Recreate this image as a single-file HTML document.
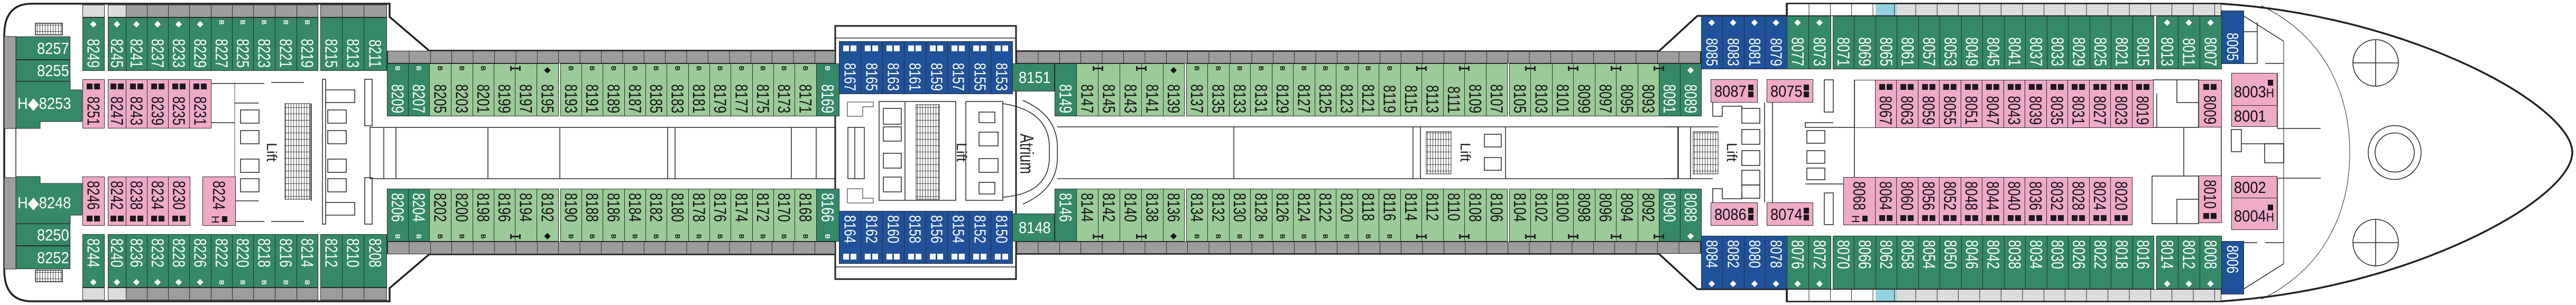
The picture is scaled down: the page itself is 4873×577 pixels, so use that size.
<!DOCTYPE html>
<html><head><meta charset="utf-8">
<style>
*{margin:0;padding:0}
body{width:4873px;height:577px;position:relative;overflow:hidden;background:#fff;font-family:"Liberation Sans",sans-serif}
svg{position:absolute;left:0;top:0}
.r{position:absolute;display:flex;border-right:1px solid #2a2a2a}
.c{position:relative;flex:none;height:100%;box-sizing:border-box;box-shadow:inset 1px 0 #2a2a2a,inset 0 1px #2a2a2a,inset 0 -1px #2a2a2a}
.s{flex:none;height:100%;background:#fff;box-shadow:inset 1px 0 #2a2a2a}
.w34{width:34px}.w39{width:39px}.w40{width:40px}.w41{width:41px}.w42{width:42px}.w43{width:43px}.w60{width:60px}.w62{width:62px}
.g4{width:4px}.g5{width:5px}.g7{width:7px}.g24{width:24px}
.dg{background:#358966;color:#fff}.lg{background:#9bcb98;color:#111}.bl{background:#1f529a;color:#fff}.pk{background:#efaac6;color:#111}.wh{background:#fff}
.gr{background:#9d9d9d}.lgr{background:#dcdcdc}
.c b{position:absolute;left:50%;margin-left:-16px;width:32px;bottom:6px;writing-mode:vertical-rl;font-weight:normal;font-size:32px;line-height:32px;transform:scaleY(.77);transform-origin:50% 100%;white-space:nowrap}
.bl b{font-size:31px}
.d .c b{bottom:auto;top:8px;transform-origin:50% 0}
.c i{position:absolute;left:0;right:0;top:3px;text-align:center;font-style:normal;font-size:16px;line-height:17px;font-family:"DejaVu Sans",sans-serif}
.d .c i{top:auto;bottom:3px}
.c i.k{writing-mode:vertical-rl;font-family:"Liberation Sans",sans-serif;font-weight:bold;font-size:12px;line-height:12px;left:50%;right:auto;margin-left:-6px;width:12px;top:5px}
.d .c i.k{top:auto;bottom:5px}
.c i.q{display:flex;justify-content:center;gap:3px;top:8px}
.d .c i.q{top:auto;bottom:8px}
.c i.q u{display:block;width:11px;height:11px;background:#1a1a1a}
.bl i.q u{background:#fff}
.c i.h{display:flex;justify-content:center;align-items:center;gap:5px;bottom:5px}
.c i.h span{writing-mode:vertical-rl;font-family:"Liberation Sans",sans-serif;font-size:20px;line-height:16px}
.c i.h u{display:block;width:10px;height:11px;background:#1a1a1a}
.ib{position:absolute;width:14px;height:9px;border-left:3px solid #222;border-right:3px solid #222;background:linear-gradient(#222,#222) center/100% 3px no-repeat}
.hb{position:absolute;display:flex;align-items:center;box-sizing:border-box;box-shadow:inset 0 0 0 1px #2a2a2a}
.hb span{font-size:31px;line-height:1;white-space:nowrap;transform:scaleX(.88);transform-origin:0 50%}
.strip{position:absolute;box-sizing:border-box;border:1px solid #2a2a2a;background-image:repeating-linear-gradient(to right,#2a2a2a 0 1px,transparent 1px 40.4px)}
.lv{position:absolute;writing-mode:vertical-rl;font-size:27px;line-height:27px;color:#222;white-space:nowrap}
.sq2{position:absolute;width:10px}
.sq2 u{display:block;width:10px;height:11px;background:#1a1a1a;margin-bottom:2px}
</style></head><body>
<svg width="4873" height="577" viewBox="0 0 4873 577">
<defs><pattern id="st" width="5" height="12" patternUnits="userSpaceOnUse"><rect width="0.8" height="12" fill="#222"/><rect width="5" height="0.8" y="11" fill="#222"/></pattern></defs>
<g fill="none" stroke="#222" stroke-width="1.5">
<line x1="30" y1="243" x2="30" y2="336"/>
<rect x="67" y="44" width="51" height="22" fill="url(#st)"/>
<rect x="67" y="511" width="51" height="22" fill="url(#st)"/>
<line x1="399" y1="158" x2="444" y2="158"/><line x1="399" y1="232" x2="444" y2="232"/>
<line x1="399" y1="419" x2="444" y2="419"/>
<line x1="444" y1="156" x2="444" y2="421" stroke="#888"/>
<line x1="444" y1="158" x2="500" y2="158"/><line x1="513" y1="156" x2="575" y2="156"/>
<line x1="444" y1="419" x2="500" y2="419"/><line x1="513" y1="419" x2="575" y2="419"/>
<line x1="444" y1="195" x2="489" y2="195"/><line x1="444" y1="380" x2="489" y2="380"/>
<rect x="455" y="208" width="35" height="25"/><rect x="455" y="247" width="35" height="25"/><rect x="455" y="301" width="35" height="25"/><rect x="455" y="338" width="35" height="25"/>
<rect x="539" y="196" width="48" height="181" fill="url(#st)" stroke-width="1"/>
<line x1="589" y1="196" x2="589" y2="380"/>
<rect x="610" y="150" width="6" height="274"/>
<rect x="620" y="208" width="35" height="25"/><rect x="620" y="247" width="35" height="25"/><rect x="620" y="301" width="35" height="25"/><rect x="620" y="338" width="35" height="25"/>
<polyline points="616,170 671,170 671,194 616,194"/><polyline points="616,383 671,383 671,407 616,407"/>
<rect x="690" y="150" width="14" height="88"/><rect x="690" y="336" width="14" height="88"/>
<rect x="700" y="241" width="890" height="97"/>
<line x1="726" y1="241" x2="726" y2="338"/><line x1="749" y1="241" x2="749" y2="338"/><line x1="923" y1="241" x2="923" y2="338"/><line x1="1059" y1="241" x2="1059" y2="338"/><line x1="1263" y1="241" x2="1263" y2="338"/><line x1="1277" y1="241" x2="1277" y2="338"/><line x1="1497" y1="241" x2="1497" y2="338"/><line x1="1544" y1="241" x2="1544" y2="338"/>
</g>
<rect x="1580" y="49" width="342" height="479" fill="#fff" stroke="#222" stroke-width="3"/>
<line x1="1580" y1="72" x2="1922" y2="72" stroke="#222" stroke-width="1.5"/>
<line x1="1580" y1="505" x2="1922" y2="505" stroke="#222" stroke-width="1.5"/>
<g fill="none" stroke="#222" stroke-width="1.5">
<polyline points="1603,193 1652,193 1652,202 1632,202 1632,220 1603,220 1603,193" stroke="#666"/>
<polyline points="1603,384 1652,384 1652,375 1632,375 1632,357 1603,357 1603,384" stroke="#666"/>
<rect x="1604" y="241" width="31" height="97"/><line x1="1617" y1="241" x2="1617" y2="338"/>
<rect x="1663" y="192" width="145" height="187"/>
<line x1="1712" y1="192" x2="1712" y2="379"/>
<rect x="1671" y="205" width="34" height="30"/><rect x="1671" y="240" width="34" height="27"/><rect x="1671" y="290" width="34" height="28"/><rect x="1671" y="335" width="34" height="28"/>
<rect x="1733" y="198" width="44" height="179" fill="url(#st)" stroke-width="1"/>
<rect x="1827" y="192" width="70" height="187"/>
<rect x="1852" y="212" width="30" height="20"/><rect x="1852" y="250" width="36" height="26"/><rect x="1852" y="300" width="36" height="26"/><rect x="1852" y="345" width="30" height="22"/>
<path d="M1897,196 Q1990,210 1985,288 Q1990,366 1897,373"/>
<path d="M1935,190 Q2005,220 2000,288 Q2005,356 1935,386"/>
<line x1="2000" y1="240" x2="3175" y2="240"/><line x1="2000" y1="338" x2="3175" y2="338"/>
<line x1="2334" y1="240" x2="2334" y2="338"/><line x1="2673" y1="240" x2="2673" y2="338"/><line x1="2687" y1="240" x2="2687" y2="338"/><line x1="2848" y1="240" x2="2848" y2="338"/><line x1="3175" y1="240" x2="3175" y2="338"/>
<rect x="2698" y="249" width="47" height="80" fill="url(#st)" stroke-width="1"/>
<rect x="2808" y="254" width="32" height="24"/><rect x="2808" y="298" width="32" height="24"/>
<line x1="3150" y1="240" x2="3250" y2="240"/><line x1="3150" y1="338" x2="3240" y2="338"/>
<line x1="3174" y1="240" x2="3174" y2="338"/><line x1="3198" y1="240" x2="3198" y2="338"/>
<rect x="3203" y="249" width="47" height="80" fill="url(#st)" stroke-width="1"/>
<polyline points="3240,194 3240,220 3258,220 3258,201 3295,201 3295,210"/>
<polyline points="3240,383 3240,357 3258,357 3258,376 3295,376 3295,367"/>
<rect x="3295" y="205" width="34" height="28"/><rect x="3295" y="245" width="34" height="28"/><rect x="3295" y="285" width="34" height="28"/><rect x="3295" y="322" width="34" height="28"/><rect x="3295" y="350" width="34" height="25"/>
<line x1="3338" y1="194" x2="3338" y2="383"/><line x1="3353" y1="194" x2="3353" y2="383"/>
<rect x="3451" y="151" width="17" height="61"/><rect x="3451" y="365" width="17" height="60"/>
<polyline points="3508,241 3415,241 3415,232 3468,232"/>
<rect x="3418" y="247" width="34" height="24"/><rect x="3418" y="285" width="34" height="24"/><rect x="3418" y="318" width="34" height="22"/>
<line x1="3415" y1="348" x2="3487" y2="348"/>
<line x1="3508" y1="151" x2="3508" y2="336"/>
<rect x="4073" y="151" width="86" height="90"/><line x1="4080" y1="177" x2="4080" y2="241"/>
<polyline points="4118,151 4118,194 4159,194"/>
<line x1="4131" y1="241" x2="4131" y2="333"/>
<rect x="4071" y="333" width="88" height="90"/>
<polyline points="4118,423 4118,377 4159,377"/>
<line x1="4202" y1="241" x2="4202" y2="333"/>
<line x1="4320" y1="78" x2="4320" y2="499" stroke="#888" stroke-width="2"/>
<line x1="4244" y1="30" x2="4320" y2="78"/><line x1="4244" y1="547" x2="4320" y2="499"/>
<line x1="4244" y1="120" x2="4270" y2="120"/><line x1="4285" y1="120" x2="4320" y2="120"/>
<line x1="4244" y1="459" x2="4270" y2="459"/><line x1="4285" y1="459" x2="4320" y2="459"/>
<line x1="4270" y1="42" x2="4270" y2="120"/><line x1="4244" y1="60" x2="4270" y2="60"/>
<line x1="4308" y1="243" x2="4390" y2="243"/><line x1="4308" y1="337" x2="4390" y2="337"/>
<line x1="4308" y1="138" x2="4308" y2="243"/><line x1="4308" y1="337" x2="4308" y2="435"/>
<rect x="4221" y="245" width="19" height="42"/><line x1="4240" y1="272" x2="4320" y2="272"/>
<rect x="4284" y="272" width="36" height="36"/>
<path d="M4278,11 C4400,70 4445,180 4445,288.5 C4445,397 4400,507 4278,566" stroke-width="1"/>
<ellipse cx="4494" cy="119" rx="43" ry="44"/><line x1="4451" y1="119" x2="4537" y2="119"/><line x1="4494" y1="75" x2="4494" y2="163"/>
<ellipse cx="4494" cy="459" rx="43" ry="44"/><line x1="4451" y1="459" x2="4537" y2="459"/><line x1="4494" y1="415" x2="4494" y2="503"/>
<ellipse cx="4530" cy="288.5" rx="50" ry="51"/><ellipse cx="4530" cy="288.5" rx="37" ry="37"/>
</g>
<path d="M60,7 L737,7 L737,32 L812,96 L1580,96 M1922,97 L3138,97 L3211,30 L3380,30 L3380,7 L4202,7 C4560,30 4866,200 4866,288.5 C4866,377 4560,547 4202,570 L3380,570 L3380,547 L3211,547 L3138,480 L1922,480 M1580,481 L812,481 L737,545 L737,570 L60,570 Q8,570 8,510 L8,67 Q8,7 60,7" fill="none" stroke="#222" stroke-width="3.5"/>
<rect x="8" y="69" width="22" height="174" fill="#9d9d9d" stroke="#2a2a2a"/>
<rect x="8" y="336" width="22" height="173" fill="#9d9d9d" stroke="#2a2a2a"/>
<polygon points="30,154 133,154 133,170 155,170 155,230 76,230 76,243 30,243" fill="#358966" stroke="#2a2a2a"/>
<polygon points="30,334 76,334 76,347 155,347 155,407 133,407 133,423 30,423" fill="#358966" stroke="#2a2a2a"/>
</svg>

<div class="hb dg" style="left:30px;top:69px;width:103px;height:44px;padding-left:40px"><span>8257</span></div>
<div class="hb dg" style="left:30px;top:113px;width:103px;height:41px;padding-left:40px"><span>8255</span></div>
<div class="hb" style="left:30px;top:170px;width:124px;height:50px;padding-left:3px;color:#fff;box-shadow:none"><span>H◆8253</span></div>
<div class="hb" style="left:30px;top:358px;width:124px;height:50px;padding-left:3px;color:#fff;box-shadow:none"><span>H◆8248</span></div>
<div class="hb dg" style="left:30px;top:423px;width:103px;height:42px;padding-left:40px"><span>8250</span></div>
<div class="hb dg" style="left:30px;top:465px;width:103px;height:44px;padding-left:40px"><span>8252</span></div>

<div class="r" style="left:156px;top:9px;height:24px"><div class="c lgr w41"></div><div class="s g7"></div><div class="c lgr w34"></div><div class="c gr w40"></div><div class="c gr w40"></div><div class="c gr w40"></div><div class="c gr w41"></div><div class="c gr w40"></div><div class="c gr w40"></div><div class="c gr w41"></div><div class="c gr w41"></div><div class="c gr w40"></div><div class="s g5"></div><div class="c gr w41"></div><div class="c gr w41"></div><div class="c gr w43"></div></div>
<div class="r" style="left:156px;top:544px;height:24px"><div class="c lgr w41"></div><div class="s g7"></div><div class="c lgr w34"></div><div class="c gr w40"></div><div class="c gr w40"></div><div class="c gr w40"></div><div class="c gr w41"></div><div class="c gr w40"></div><div class="c gr w40"></div><div class="c gr w41"></div><div class="c gr w41"></div><div class="c gr w40"></div><div class="s g5"></div><div class="c gr w41"></div><div class="c gr w41"></div><div class="c gr w43"></div></div>

<div class="r" style="left:156px;top:33px;height:101px">
<div class="c dg w41"><i>◆</i><b>8249</b></div><div class="s g7"></div><div class="c dg w34"><i>◆</i><b>8245</b></div><div class="c dg w40"><i>◆</i><b>8241</b></div><div class="c dg w40"><i>◆</i><b>8237</b></div><div class="c dg w40"><i>◆</i><b>8233</b></div><div class="c dg w41"><i>◆</i><b>8229</b></div><div class="c dg w40"><i class="k">B</i><b>8227</b></div><div class="c dg w40"><i class="k">B</i><b>8225</b></div><div class="c dg w41"><i class="k">B</i><b>8223</b></div><div class="c dg w41"><i class="k">B</i><b>8221</b></div><div class="c dg w40"><i class="k">B</i><b>8219</b></div><div class="s g5"></div><div class="c dg w41"><b>8215</b></div><div class="c dg w41"><b>8213</b></div><div class="c dg w43"><b>8211</b></div>
</div>
<div class="r d" style="left:156px;top:443px;height:101px">
<div class="c dg w41"><i>◆</i><b>8244</b></div><div class="s g7"></div><div class="c dg w34"><i>◆</i><b>8240</b></div><div class="c dg w40"><i>◆</i><b>8236</b></div><div class="c dg w40"><i>◆</i><b>8232</b></div><div class="c dg w40"><i>◆</i><b>8228</b></div><div class="c dg w41"><i>◆</i><b>8226</b></div><div class="c dg w40"><i class="k">B</i><b>8222</b></div><div class="c dg w40"><i class="k">B</i><b>8220</b></div><div class="c dg w41"><i class="k">B</i><b>8218</b></div><div class="c dg w41"><i class="k">B</i><b>8216</b></div><div class="c dg w40"><i class="k">B</i><b>8214</b></div><div class="s g5"></div><div class="c dg w41"><b>8212</b></div><div class="c dg w41"><b>8210</b></div><div class="c dg w43"><b>8208</b></div>
</div>
<div class="r" style="left:156px;top:150px;height:93px">
<div class="c pk w41"><i class="q"><u></u><u></u></i><b>8251</b></div><div class="s g7"></div><div class="c pk w34"><i class="q"><u></u><u></u></i><b>8247</b></div><div class="c pk w40"><i class="q"><u></u><u></u></i><b>8243</b></div><div class="c pk w40"><i class="q"><u></u><u></u></i><b>8239</b></div><div class="c pk w40"><i class="q"><u></u><u></u></i><b>8235</b></div><div class="c pk w41"><i class="q"><u></u><u></u></i><b>8231</b></div>
</div>
<div class="r d" style="left:156px;top:334px;height:93px">
<div class="c pk w41"><i class="q"><u></u><u></u></i><b>8246</b></div><div class="s g7"></div><div class="c pk w34"><i class="q"><u></u><u></u></i><b>8242</b></div><div class="c pk w40"><i class="q"><u></u><u></u></i><b>8238</b></div><div class="c pk w40"><i class="q"><u></u><u></u></i><b>8234</b></div><div class="c pk w41"><i class="q"><u></u><u></u></i><b>8230</b></div><div class="s g24"></div><div class="c pk w62"><i class="h"><span>H</span><u></u></i><b>8224</b></div>
</div>

<div class="strip gr" style="left:732px;top:96px;width:848px;height:24px"></div>
<div class="strip gr" style="left:732px;top:457px;width:848px;height:24px"></div>
<div class="strip gr" style="left:1922px;top:97px;width:1296px;height:23px"></div>
<div class="strip gr" style="left:1922px;top:457px;width:1296px;height:23px"></div>

<div class="r" style="left:732px;top:120px;height:100px">
<div class="c dg w40"><i class="k">B</i><b>8209</b></div><div class="c dg w40"><i class="k">B</i><b>8207</b></div><div class="c lg w41"><i class="k">B</i><b>8205</b></div><div class="c lg w41"><i class="k">B</i><b>8203</b></div><div class="c lg w40"><i class="k">B</i><b>8201</b></div><div class="c lg w40"><b>8199</b></div><div class="c lg w41"><b>8197</b></div><div class="c lg w41"><i>◆</i><b>8195</b></div><div class="s g4"></div>
<div class="c lg w40"><i class="k">B</i><b>8193</b></div><div class="c lg w40"><i class="k">B</i><b>8191</b></div><div class="c lg w41"><i class="k">B</i><b>8189</b></div><div class="c lg w40"><i class="k">B</i><b>8187</b></div><div class="c lg w40"><i class="k">B</i><b>8185</b></div><div class="c lg w41"><i class="k">B</i><b>8183</b></div><div class="c lg w40"><i class="k">B</i><b>8181</b></div><div class="c lg w40"><i class="k">B</i><b>8179</b></div><div class="c lg w41"><i class="k">B</i><b>8177</b></div><div class="c lg w40"><i class="k">B</i><b>8175</b></div><div class="c lg w40"><i class="k">B</i><b>8173</b></div><div class="c lg w41"><i class="k">B</i><b>8171</b></div><div class="c dg w43"><i class="k">B</i><b>8169</b></div>
</div>
<div class="r d" style="left:732px;top:357px;height:100px">
<div class="c dg w40"><i class="k">B</i><b>8206</b></div><div class="c dg w40"><i class="k">B</i><b>8204</b></div><div class="c lg w41"><i class="k">B</i><b>8202</b></div><div class="c lg w41"><i class="k">B</i><b>8200</b></div><div class="c lg w40"><i class="k">B</i><b>8198</b></div><div class="c lg w40"><b>8196</b></div><div class="c lg w41"><b>8194</b></div><div class="c lg w41"><i>◆</i><b>8192</b></div><div class="s g4"></div>
<div class="c lg w40"><i class="k">B</i><b>8190</b></div><div class="c lg w40"><i class="k">B</i><b>8188</b></div><div class="c lg w41"><i class="k">B</i><b>8186</b></div><div class="c lg w40"><i class="k">B</i><b>8184</b></div><div class="c lg w40"><i class="k">B</i><b>8182</b></div><div class="c lg w41"><i class="k">B</i><b>8180</b></div><div class="c lg w40"><i class="k">B</i><b>8178</b></div><div class="c lg w40"><i class="k">B</i><b>8176</b></div><div class="c lg w41"><i class="k">B</i><b>8174</b></div><div class="c lg w40"><i class="k">B</i><b>8172</b></div><div class="c lg w40"><i class="k">B</i><b>8170</b></div><div class="c lg w41"><i class="k">B</i><b>8168</b></div><div class="c dg w43"><i class="k">B</i><b>8166</b></div>
</div>

<div class="r" style="left:1587px;top:78px;height:100px">
<div class="c bl w41"><i class="q"><u></u><u></u></i><b>8167</b></div><div class="c bl w41"><i class="q"><u></u><u></u></i><b>8165</b></div><div class="c bl w41"><i class="q"><u></u><u></u></i><b>8163</b></div><div class="c bl w41"><i class="q"><u></u><u></u></i><b>8161</b></div><div class="c bl w41"><i class="q"><u></u><u></u></i><b>8159</b></div><div class="c bl w41"><i class="q"><u></u><u></u></i><b>8157</b></div><div class="c bl w41"><i class="q"><u></u><u></u></i><b>8155</b></div><div class="c bl w41"><i class="q"><u></u><u></u></i><b>8153</b></div>
</div>
<div class="r d" style="left:1587px;top:399px;height:100px">
<div class="c bl w41"><i class="q"><u></u><u></u></i><b>8164</b></div><div class="c bl w41"><i class="q"><u></u><u></u></i><b>8162</b></div><div class="c bl w41"><i class="q"><u></u><u></u></i><b>8160</b></div><div class="c bl w41"><i class="q"><u></u><u></u></i><b>8158</b></div><div class="c bl w41"><i class="q"><u></u><u></u></i><b>8156</b></div><div class="c bl w41"><i class="q"><u></u><u></u></i><b>8154</b></div><div class="c bl w41"><i class="q"><u></u><u></u></i><b>8152</b></div><div class="c bl w41"><i class="q"><u></u><u></u></i><b>8150</b></div>
</div>
<div class="hb dg" style="left:1915px;top:120px;width:80px;height:53px;padding-left:12px"><span>8151</span></div>
<div class="hb dg" style="left:1915px;top:404px;width:80px;height:53px;padding-left:12px"><span>8148</span></div>

<div class="r" style="left:1995px;top:120px;height:100px">
<div class="c dg w41"><b>8149</b></div><div class="c lg w41"><b>8147</b></div><div class="c lg w41"><b>8145</b></div><div class="c lg w41"><b>8143</b></div><div class="c lg w41"><b>8141</b></div><div class="c lg w40"><i>◆</i><b>8139</b></div><div class="s g4"></div>
<div class="c lg w40"><i class="k">B</i><b>8137</b></div><div class="c lg w41"><i class="k">B</i><b>8135</b></div><div class="c lg w40"><i class="k">B</i><b>8133</b></div><div class="c lg w41"><i class="k">B</i><b>8131</b></div><div class="c lg w40"><i class="k">B</i><b>8129</b></div><div class="c lg w41"><i class="k">B</i><b>8127</b></div><div class="c lg w40"><i class="k">B</i><b>8125</b></div><div class="c lg w41"><i class="k">B</i><b>8123</b></div><div class="c lg w40"><i class="k">B</i><b>8121</b></div><div class="c lg w41"><i class="k">B</i><b>8119</b></div><div class="c lg w40"><b>8115</b></div><div class="c lg w41"><b>8113</b></div><div class="c lg w40"><b>8111</b></div><div class="c lg w41"><b>8109</b></div><div class="c lg w40"><b>8107</b></div><div class="s g4"></div>
<div class="c lg w40"><b>8105</b></div><div class="c lg w41"><b>8103</b></div><div class="c lg w40"><b>8101</b></div><div class="c lg w41"><b>8099</b></div><div class="c lg w40"><b>8097</b></div><div class="c lg w41"><b>8095</b></div><div class="c lg w40"><b>8093</b></div><div class="c dg w40"><b>8091</b></div><div class="c dg w40"><i>◆</i><b>8089</b></div>
</div>
<div class="r d" style="left:1995px;top:357px;height:100px">
<div class="c dg w41"><b>8146</b></div><div class="c lg w41"><b>8144</b></div><div class="c lg w41"><b>8142</b></div><div class="c lg w41"><b>8140</b></div><div class="c lg w41"><b>8138</b></div><div class="c lg w40"><i>◆</i><b>8136</b></div><div class="s g4"></div>
<div class="c lg w40"><i class="k">B</i><b>8134</b></div><div class="c lg w41"><i class="k">B</i><b>8132</b></div><div class="c lg w40"><i class="k">B</i><b>8130</b></div><div class="c lg w41"><i class="k">B</i><b>8128</b></div><div class="c lg w40"><i class="k">B</i><b>8126</b></div><div class="c lg w41"><i class="k">B</i><b>8124</b></div><div class="c lg w40"><i class="k">B</i><b>8122</b></div><div class="c lg w41"><i class="k">B</i><b>8120</b></div><div class="c lg w40"><i class="k">B</i><b>8118</b></div><div class="c lg w41"><i class="k">B</i><b>8116</b></div><div class="c lg w40"><b>8114</b></div><div class="c lg w41"><b>8112</b></div><div class="c lg w40"><b>8110</b></div><div class="c lg w41"><b>8108</b></div><div class="c lg w40"><b>8106</b></div><div class="s g4"></div>
<div class="c lg w40"><b>8104</b></div><div class="c lg w41"><b>8102</b></div><div class="c lg w40"><b>8100</b></div><div class="c lg w41"><b>8098</b></div><div class="c lg w40"><b>8096</b></div><div class="c lg w41"><b>8094</b></div><div class="c lg w40"><b>8092</b></div><div class="c dg w40"><b>8090</b></div><div class="c dg w40"><i>◆</i><b>8088</b></div>
</div>

<div class="ib" style="left:965px;top:125px"></div><div class="ib" style="left:965px;top:443px"></div>
<div class="ib" style="left:2067px;top:125px"></div><div class="ib" style="left:2149px;top:125px"></div><div class="ib" style="left:2679px;top:125px"></div><div class="ib" style="left:2760px;top:125px"></div><div class="ib" style="left:2885px;top:125px"></div><div class="ib" style="left:2966px;top:125px"></div><div class="ib" style="left:3047px;top:125px"></div><div class="ib" style="left:3128px;top:125px"></div>
<div class="ib" style="left:2067px;top:443px"></div><div class="ib" style="left:2149px;top:443px"></div><div class="ib" style="left:2679px;top:443px"></div><div class="ib" style="left:2760px;top:443px"></div><div class="ib" style="left:2885px;top:443px"></div><div class="ib" style="left:2966px;top:443px"></div><div class="ib" style="left:3047px;top:443px"></div><div class="ib" style="left:3128px;top:443px"></div>

<div class="strip" style="left:3380px;top:7px;width:822px;height:23px;background-color:#dcdcdc;background-image:repeating-linear-gradient(to right,#2a2a2a 0 1px,transparent 1px 40.4px),linear-gradient(to right,#fff 0 167px,#93d3df 167px 207px,#dcdcdc 207px)"></div>
<div class="strip" style="left:3380px;top:547px;width:822px;height:23px;background-color:#dcdcdc;background-image:repeating-linear-gradient(to right,#2a2a2a 0 1px,transparent 1px 40.4px),linear-gradient(to right,#fff 0 167px,#93d3df 167px 207px,#dcdcdc 207px)"></div>

<div class="r" style="left:3218px;top:30px;height:101px">
<div class="c bl w40"><i>◆</i><b>8085</b></div><div class="c bl w41"><i>◆</i><b>8083</b></div><div class="c bl w40"><i>◆</i><b>8081</b></div><div class="c bl w41"><i>◆</i><b>8079</b></div><div class="c dg w41"><i>◆</i><b>8077</b></div><div class="c dg w42"><i>◆</i><b>8073</b></div><div class="s g4"></div>
<div class="c dg w40"><b>8071</b></div><div class="c dg w41"><b>8069</b></div><div class="c dg w40"><b>8065</b></div><div class="c dg w41"><b>8061</b></div><div class="c dg w40"><b>8057</b></div><div class="c dg w41"><b>8053</b></div><div class="c dg w40"><b>8049</b></div><div class="c dg w41"><b>8045</b></div><div class="c dg w40"><b>8041</b></div><div class="c dg w41"><b>8037</b></div><div class="c dg w40"><b>8033</b></div><div class="c dg w41"><b>8029</b></div><div class="c dg w40"><b>8025</b></div><div class="c dg w41"><b>8021</b></div><div class="c dg w40"><b>8015</b></div><div class="s g5"></div>
<div class="c dg w41"><i>◆</i><b>8013</b></div><div class="c dg w41"><i>◆</i><b>8011</b></div><div class="c dg w41"><i>◆</i><b>8007</b></div>
</div>
<div class="r" style="left:4202px;top:20px;height:101px"><div class="c bl w42"><b>8005</b></div></div>
<div class="r d" style="left:3218px;top:446px;height:101px">
<div class="c bl w40"><i>◆</i><b>8084</b></div><div class="c bl w41"><i>◆</i><b>8082</b></div><div class="c bl w40"><i>◆</i><b>8080</b></div><div class="c bl w41"><i>◆</i><b>8078</b></div><div class="c dg w41"><i>◆</i><b>8076</b></div><div class="c dg w42"><i>◆</i><b>8072</b></div><div class="s g4"></div>
<div class="c dg w40"><b>8070</b></div><div class="c dg w41"><b>8066</b></div><div class="c dg w40"><b>8062</b></div><div class="c dg w41"><b>8058</b></div><div class="c dg w40"><b>8054</b></div><div class="c dg w41"><b>8050</b></div><div class="c dg w40"><b>8046</b></div><div class="c dg w41"><b>8042</b></div><div class="c dg w40"><b>8038</b></div><div class="c dg w41"><b>8034</b></div><div class="c dg w40"><b>8030</b></div><div class="c dg w41"><b>8026</b></div><div class="c dg w40"><b>8022</b></div><div class="c dg w41"><b>8018</b></div><div class="c dg w40"><b>8016</b></div><div class="s g5"></div>
<div class="c dg w41"><i>◆</i><b>8014</b></div><div class="c dg w41"><i>◆</i><b>8012</b></div><div class="c dg w41"><i>◆</i><b>8008</b></div>
</div>
<div class="r d" style="left:4202px;top:456px;height:101px"><div class="c bl w42"><b>8006</b></div></div>

<div class="r" style="left:3508px;top:151px;height:91px">
<div class="c wh w39"></div>
<div class="c pk w40"><i class="q"><u></u><u></u></i><b>8067</b></div><div class="c pk w41"><i class="q"><u></u><u></u></i><b>8063</b></div><div class="c pk w40"><i class="q"><u></u><u></u></i><b>8059</b></div><div class="c pk w41"><i class="q"><u></u><u></u></i><b>8055</b></div><div class="c pk w40"><i class="q"><u></u><u></u></i><b>8051</b></div><div class="c pk w41"><i class="q"><u></u><u></u></i><b>8047</b></div><div class="c pk w40"><i class="q"><u></u><u></u></i><b>8043</b></div><div class="c pk w41"><i class="q"><u></u><u></u></i><b>8039</b></div><div class="c pk w40"><i class="q"><u></u><u></u></i><b>8035</b></div><div class="c pk w41"><i class="q"><u></u><u></u></i><b>8031</b></div><div class="c pk w40"><i class="q"><u></u><u></u></i><b>8027</b></div><div class="c pk w41"><i class="q"><u></u><u></u></i><b>8023</b></div><div class="c pk w40"><i class="q"><u></u><u></u></i><b>8019</b></div>
</div>
<div class="r" style="left:4159px;top:151px;height:90px"><div class="c pk w43"><i class="q"><u></u><u></u></i><b>8009</b></div></div>
<div class="r d" style="left:3487px;top:335px;height:91px">
<div class="c pk w60"><i class="h"><span>H</span><u></u></i><b>8068</b></div>
<div class="c pk w40"><i class="q"><u></u><u></u></i><b>8064</b></div><div class="c pk w41"><i class="q"><u></u><u></u></i><b>8060</b></div><div class="c pk w40"><i class="q"><u></u><u></u></i><b>8056</b></div><div class="c pk w41"><i class="q"><u></u><u></u></i><b>8052</b></div><div class="c pk w40"><i class="q"><u></u><u></u></i><b>8048</b></div><div class="c pk w41"><i class="q"><u></u><u></u></i><b>8044</b></div><div class="c pk w40"><i class="q"><u></u><u></u></i><b>8040</b></div><div class="c pk w41"><i class="q"><u></u><u></u></i><b>8036</b></div><div class="c pk w40"><i class="q"><u></u><u></u></i><b>8032</b></div><div class="c pk w41"><i class="q"><u></u><u></u></i><b>8028</b></div><div class="c pk w40"><i class="q"><u></u><u></u></i><b>8024</b></div><div class="c pk w41"><i class="q"><u></u><u></u></i><b>8020</b></div>
</div>
<div class="r d" style="left:4159px;top:332px;height:90px"><div class="c pk w43"><i class="q"><u></u><u></u></i><b>8010</b></div></div>

<div class="hb pk" style="left:3236px;top:150px;width:89px;height:44px;padding-left:7px"><span>8087</span></div>
<div class="sq2" style="left:3307px;top:160px"><u></u><u></u></div>
<div class="hb pk" style="left:3342px;top:150px;width:88px;height:44px;padding-left:7px"><span>8075</span></div>
<div class="sq2" style="left:3412px;top:160px"><u></u><u></u></div>
<div class="hb pk" style="left:3236px;top:383px;width:89px;height:44px;padding-left:7px"><span>8086</span></div>
<div class="sq2" style="left:3307px;top:393px"><u></u><u></u></div>
<div class="hb pk" style="left:3342px;top:383px;width:88px;height:44px;padding-left:7px"><span>8074</span></div>
<div class="sq2" style="left:3412px;top:393px"><u></u><u></u></div>

<div class="hb pk" style="left:4221px;top:138px;width:87px;height:62px;padding-left:5px;padding-top:8px"><span>8003<small style="font-size:24px">H</small></span></div>
<div style="position:absolute;left:4290px;top:151px;width:10px;height:11px;background:#1a1a1a"></div>
<div class="hb pk" style="left:4221px;top:199px;width:87px;height:41px;padding-left:5px"><span>8001</span></div>
<div class="hb pk" style="left:4221px;top:333px;width:87px;height:42px;padding-left:5px"><span>8002</span></div>
<div class="hb pk" style="left:4221px;top:374px;width:87px;height:61px;padding-left:5px;padding-top:8px"><span>8004<small style="font-size:24px">H</small></span></div>
<div style="position:absolute;left:4290px;top:387px;width:10px;height:11px;background:#1a1a1a"></div>

<div class="lv" style="left:500px;top:270px">Lift</div>
<div class="lv" style="left:1805px;top:270px">Lift</div>
<div class="lv" style="left:2758px;top:270px">Lift</div>
<div class="lv" style="left:3262px;top:270px">Lift</div>
<div class="lv" style="left:1924px;top:239px;font-size:36px;line-height:36px;transform:scaleY(.73);transform-origin:50% 50%">Atrium</div>
</body></html>
